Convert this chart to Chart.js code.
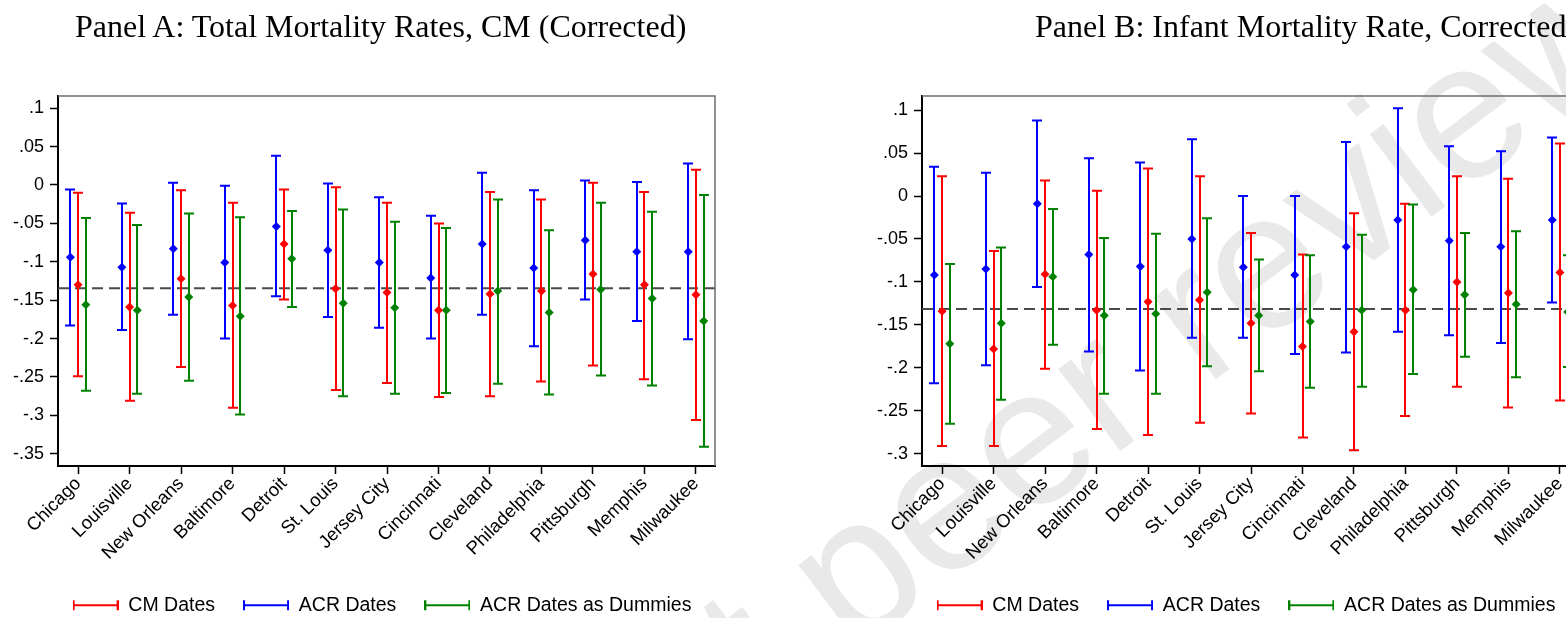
<!DOCTYPE html>
<html>
<head>
<meta charset="utf-8">
<title>Mortality estimates by city</title>
<script src="https://cdn.jsdelivr.net/npm/chart.js@4.4.1/dist/chart.umd.min.js"></script>
<style>
    html, body { margin: 0; padding: 0; background: #fff; overflow: hidden; }
    body { position: relative; width: 1566px; height: 618px; }
    .watermark { position: absolute; left: 0; top: 0; z-index: 0; }
    .panel { position: absolute; top: 0; width: 764px; height: 625px; z-index: 1; }
    .panel-title {
        position: absolute; top: 10px; z-index: 2;
        font-family: "Liberation Serif", "Times New Roman", serif;
        font-size: 32px; line-height: 32px; color: #000; white-space: nowrap;
    }
</style>
</head>
<body>
<svg class="watermark" width="1566" height="618">
    <g transform="rotate(-37 850 655)" font-family="Liberation Sans, Arial, sans-serif" font-size="195" fill="#e9e9e9">
        <text x="796" y="655" text-anchor="end">Preprint not</text>
        <text x="850" y="655">peer reviewed</text>
    </g>
</svg>
<div class="panel-title" style="left:75px">Panel A: Total Mortality Rates, CM (Corrected)</div>
<div class="panel-title" style="left:1035px">Panel B: Infant Mortality Rate, Corrected</div>
<div class="panel" style="left:0"><canvas id="panelA"></canvas></div>
<div class="panel" style="left:864px"><canvas id="panelB"></canvas></div>

<script>
// 城市顺序（x 轴）
const cities = ['Chicago', 'Louisville', 'New Orleans', 'Baltimore', 'Detroit', 'St. Louis',
    'Jersey City', 'Cincinnati', 'Cleveland', 'Philadelphia', 'Pittsburgh', 'Memphis', 'Milwaukee'];

// Panel A: 总死亡率 —— 点估计和置信区间上下限
const totCM     = [-0.130, -0.159, -0.122, -0.157, -0.077, -0.135, -0.140, -0.163, -0.142, -0.138, -0.116, -0.130, -0.143];
const totCMLo   = [-0.249, -0.281, -0.237, -0.290, -0.149, -0.267, -0.258, -0.276, -0.275, -0.256, -0.235, -0.253, -0.306];
const totCMHi   = [-0.010, -0.036, -0.007, -0.023, -0.006, -0.003, -0.023, -0.050, -0.009, -0.019,  0.003, -0.009,  0.020];
const totACR    = [-0.094, -0.107, -0.083, -0.101, -0.054, -0.085, -0.101, -0.121, -0.077, -0.108, -0.072, -0.087, -0.087];
const totACRLo  = [-0.183, -0.189, -0.169, -0.200, -0.145, -0.172, -0.186, -0.200, -0.169, -0.210, -0.149, -0.177, -0.201];
const totACRHi  = [-0.006, -0.024,  0.003, -0.001,  0.038,  0.002, -0.016, -0.040,  0.016, -0.007,  0.006,  0.004,  0.028];
const totDum    = [-0.156, -0.163, -0.146, -0.171, -0.096, -0.154, -0.160, -0.163, -0.138, -0.166, -0.136, -0.148, -0.177];
const totDumLo  = [-0.268, -0.272, -0.255, -0.299, -0.159, -0.275, -0.272, -0.271, -0.259, -0.273, -0.248, -0.261, -0.341];
const totDumHi  = [-0.043, -0.052, -0.037, -0.042, -0.034, -0.032, -0.048, -0.056, -0.019, -0.059, -0.023, -0.035, -0.013];
const totMean   = -0.1344;
const totTicks  = [0.1, 0.05, 0, -0.05, -0.1, -0.15, -0.2, -0.25, -0.3, -0.35];

// Panel B: 婴儿死亡率
const infCM     = [-0.134, -0.178, -0.091, -0.133, -0.123, -0.121, -0.148, -0.175, -0.158, -0.133, -0.100, -0.113, -0.089];
const infCMLo   = [-0.291, -0.291, -0.201, -0.271, -0.278, -0.264, -0.253, -0.281, -0.296, -0.256, -0.222, -0.246, -0.238];
const infCMHi   = [ 0.023, -0.064,  0.018,  0.006,  0.032,  0.023, -0.043, -0.068, -0.020, -0.009,  0.023,  0.020,  0.061];
const infACR    = [-0.092, -0.085, -0.009, -0.068, -0.082, -0.050, -0.083, -0.092, -0.059, -0.028, -0.052, -0.059, -0.028];
const infACRLo  = [-0.218, -0.197, -0.106, -0.181, -0.203, -0.165, -0.165, -0.184, -0.182, -0.158, -0.162, -0.171, -0.124];
const infACRHi  = [ 0.034,  0.027,  0.088,  0.044,  0.039,  0.066,  0.000,  0.000,  0.063,  0.102,  0.058,  0.052,  0.068];
const infDum    = [-0.172, -0.148, -0.094, -0.139, -0.137, -0.112, -0.139, -0.146, -0.133, -0.109, -0.115, -0.126, -0.135];
const infDumLo  = [-0.265, -0.237, -0.173, -0.230, -0.230, -0.198, -0.204, -0.223, -0.222, -0.207, -0.187, -0.211, -0.199];
const infDumHi  = [-0.079, -0.060, -0.015, -0.049, -0.044, -0.026, -0.074, -0.069, -0.045, -0.010, -0.043, -0.041, -0.069];
const infMean   = -0.1315;
const infTicks  = [0.1, 0.05, 0, -0.05, -0.1, -0.15, -0.2, -0.25, -0.3];

const FONT = '"Liberation Sans", Arial, sans-serif';
const RED = '#ff0000', BLUE = '#0000ff', GREEN = '#008200';

// Stata 风格刻度: .05 / -.1 / 0
function tickText(v) {
    if (v === 0) return '0';
    return (v < 0 ? '-' : '') + String(Math.abs(v)).replace(/^0/, '');
}

// 图例图标: 带端帽的横线
function legendIcon(color) {
    const c = document.createElement('canvas');
    c.width = 46;
    c.height = 12;
    const g = c.getContext('2d');
    g.strokeStyle = color;
    g.lineWidth = 2;
    g.beginPath();
    g.moveTo(1, 6); g.lineTo(45, 6);
    g.moveTo(1, 1); g.lineTo(1, 11);
    g.moveTo(45, 1); g.lineTo(45, 11);
    g.stroke();
    return c;
}

// 误差线 + 均值虚线 + 上/右边框
const errorBars = {
    id: 'errorBars',
    beforeDatasetsDraw(chart, args, opts) {
        const { ctx, chartArea, scales: { x, y } } = chart;
        ctx.save();
        const ym = y.getPixelForValue(opts.mean);
        ctx.strokeStyle = '#4a4a4a';
        ctx.lineWidth = 2;
        ctx.setLineDash([11, 6]);
        ctx.beginPath();
        ctx.moveTo(chartArea.left, ym);
        ctx.lineTo(chartArea.right, ym);
        ctx.stroke();
        ctx.setLineDash([]);
        chart.data.datasets.forEach(ds => {
            ctx.strokeStyle = ds.borderColor;
            ctx.lineWidth = 2;
            ds.data.forEach((p, i) => {
                const px = Math.round(x.getPixelForValue(p.x));
                const lo = y.getPixelForValue(ds.lo[i]);
                const hi = y.getPixelForValue(ds.hi[i]);
                ctx.beginPath();
                ctx.moveTo(px, lo); ctx.lineTo(px, hi);
                ctx.moveTo(px - 5, lo); ctx.lineTo(px + 5, lo);
                ctx.moveTo(px - 5, hi); ctx.lineTo(px + 5, hi);
                ctx.stroke();
            });
        });
        ctx.restore();
    },
    afterDraw(chart) {
        const { ctx, chartArea: a } = chart;
        ctx.save();
        ctx.strokeStyle = '#6e6e6e';
        ctx.lineWidth = 1.5;
        ctx.beginPath();
        ctx.moveTo(a.left, a.top);
        ctx.lineTo(a.right, a.top);
        ctx.lineTo(a.right, a.bottom);
        ctx.stroke();
        ctx.restore();
    }
};

function makeChart(canvasId, series, mean, yTicks, yMin, yMax) {
    const datasets = series.map(s => ({
        label: s.label,
        data: s.est.map((v, i) => ({ x: i + s.shift, y: v })),
        lo: s.lo,
        hi: s.hi,
        borderColor: s.color,
        backgroundColor: s.color,
        pointStyle: 'rectRot',
        pointRadius: 4.5,
        pointBorderWidth: 0,
        showLine: false
    }));

    return new Chart(document.getElementById(canvasId), {
        type: 'scatter',
        data: { datasets },
        plugins: [errorBars],
        options: {
            responsive: true,
            maintainAspectRatio: false,
            animation: false,
            layout: { padding: { top: 96, left: 0, right: 0, bottom: 0 } },
            plugins: {
                tooltip: { enabled: false },
                errorBars: { mean },
                legend: {
                    position: 'bottom',
                    labels: {
                        usePointStyle: true,
                        pointStyleWidth: 46,
                        boxHeight: 12,
                        padding: 28,
                        color: '#000',
                        font: { family: FONT, size: 19.5 },
                        generateLabels: chart => chart.data.datasets.map((ds, i) => ({
                            text: ds.label,
                            pointStyle: legendIcon(ds.borderColor),
                            fillStyle: ds.borderColor,
                            strokeStyle: ds.borderColor,
                            lineWidth: 0,
                            hidden: false,
                            datasetIndex: i
                        }))
                    }
                }
            },
            scales: {
                x: {
                    type: 'linear',
                    min: -0.39,
                    max: 12.37,
                    afterBuildTicks: s => { s.ticks = cities.map((c, i) => ({ value: i })); },
                    afterFit: s => { s.height = 101.5; },
                    grid: { display: true, drawOnChartArea: false, drawTicks: true, tickLength: 8, tickColor: '#000', tickWidth: 1.5 },
                    border: { color: '#000', width: 2 },
                    ticks: {
                        autoSkip: false, minRotation: 45, maxRotation: 45, padding: -1,
                        color: '#000', font: { family: FONT, size: 18.5 },
                        callback: v => cities[v]
                    }
                },
                y: {
                    min: yMin,
                    max: yMax,
                    afterBuildTicks: s => { s.ticks = yTicks.map(v => ({ value: v })); },
                    afterFit: s => { s.width = 58; },
                    grid: { display: true, drawOnChartArea: false, drawTicks: true, tickLength: 8, tickColor: '#000', tickWidth: 1.5 },
                    border: { color: '#000', width: 2 },
                    ticks: { padding: 6, color: '#000', font: { family: FONT, size: 18 }, callback: v => tickText(v) }
                },
                // 右侧占位，让图例按整幅宽度居中
                yPad: {
                    position: 'right',
                    afterFit: s => { s.width = 49; },
                    ticks: { display: false },
                    grid: { display: false },
                    border: { display: false }
                }
            }
        }
    });
}

makeChart('panelA', [
    { label: 'CM Dates', color: RED, shift: 0, est: totCM, lo: totCMLo, hi: totCMHi },
    { label: 'ACR Dates', color: BLUE, shift: -0.15, est: totACR, lo: totACRLo, hi: totACRHi },
    { label: 'ACR Dates as Dummies', color: GREEN, shift: 0.15, est: totDum, lo: totDumLo, hi: totDumHi }
], totMean, totTicks, -0.366, 0.1159);

makeChart('panelB', [
    { label: 'CM Dates', color: RED, shift: 0, est: infCM, lo: infCMLo, hi: infCMHi },
    { label: 'ACR Dates', color: BLUE, shift: -0.15, est: infACR, lo: infACRLo, hi: infACRHi },
    { label: 'ACR Dates as Dummies', color: GREEN, shift: 0.15, est: infDum, lo: infDumLo, hi: infDumHi }
], infMean, infTicks, -0.3142, 0.1164);
</script>
</body>
</html>
